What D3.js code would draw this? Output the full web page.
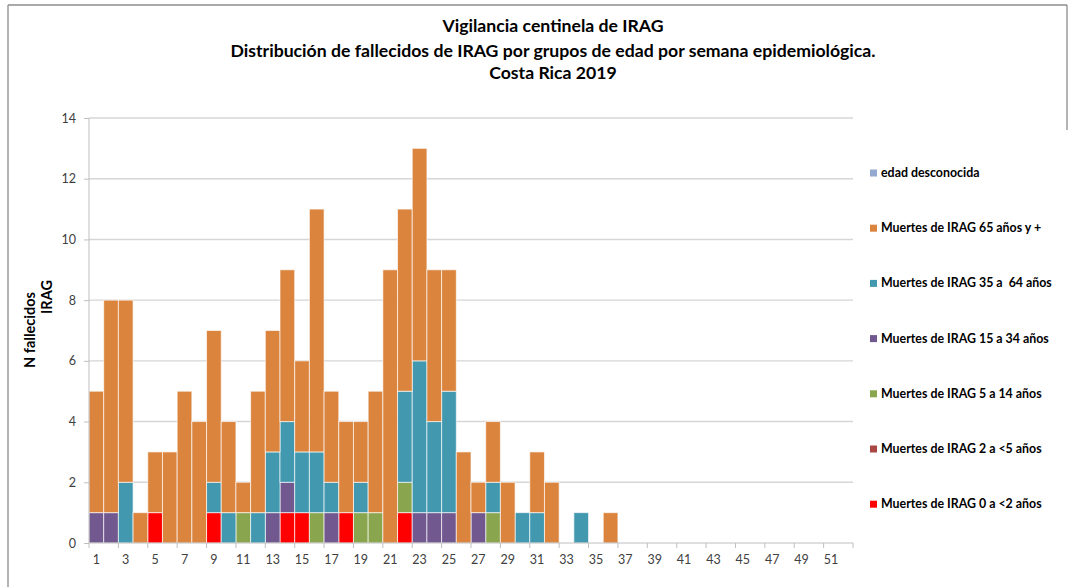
<!DOCTYPE html>
<html>
<head>
<meta charset="utf-8">
<script src="https://cdn.jsdelivr.net/npm/d3@7"></script>
<style>
  html, body { margin: 0; padding: 0; background: #fff; }
  svg { display: block; font-family: Lato, "Open Sans", sans-serif; }
  text { white-space: pre; }
</style>
</head>
<body>
<svg id="chart" width="1075" height="587"></svg>
<script>
// ---------- DATA ----------
const weeks = d3.range(1, 53);
const seriesNames = [
  "Muertes de IRAG 0 a <2 años",
  "Muertes de IRAG 2 a <5 años",
  "Muertes de IRAG 5 a 14 años",
  "Muertes de IRAG 15 a 34 años",
  "Muertes de IRAG 35 a  64 años",
  "Muertes de IRAG 65 años y +",
  "edad desconocida"
];
const deaths0to2 = [0,0,0,0,1,0,0,0,1,0, 0,0,0,1,1,0,0,1,0,0, 0,1,0,0,0,0,0,0,0,0, 0,0,0,0,0,0,0,0,0,0, 0,0,0,0,0,0,0,0,0,0, 0,0];
const deaths2to5 = [0,0,0,0,0,0,0,0,0,0, 0,0,0,0,0,0,0,0,0,0, 0,0,0,0,0,0,0,0,0,0, 0,0,0,0,0,0,0,0,0,0, 0,0,0,0,0,0,0,0,0,0, 0,0];
const deaths5to14 = [0,0,0,0,0,0,0,0,0,0, 1,0,0,0,0,1,0,0,1,1, 0,1,0,0,0,0,0,1,0,0, 0,0,0,0,0,0,0,0,0,0, 0,0,0,0,0,0,0,0,0,0, 0,0];
const deaths15to34 = [1,1,0,0,0,0,0,0,0,0, 0,0,1,1,0,0,1,0,0,0, 0,0,1,1,1,0,1,0,0,0, 0,0,0,0,0,0,0,0,0,0, 0,0,0,0,0,0,0,0,0,0, 0,0];
const deaths35to64 = [0,0,2,0,0,0,0,0,1,1, 0,1,2,2,2,2,1,0,1,0, 0,3,5,3,4,0,0,1,0,1, 1,0,0,1,0,0,0,0,0,0, 0,0,0,0,0,0,0,0,0,0, 0,0];
const deaths65plus = [4,7,6,1,2,3,5,4,5,3, 1,4,4,5,3,8,3,3,2,4, 9,6,7,5,4,3,1,2,2,0, 2,2,0,0,0,1,0,0,0,0, 0,0,0,0,0,0,0,0,0,0, 0,0];
const deathsUnknown = [0,0,0,0,0,0,0,0,0,0, 0,0,0,0,0,0,0,0,0,0, 0,0,0,0,0,0,0,0,0,0, 0,0,0,0,0,0,0,0,0,0, 0,0,0,0,0,0,0,0,0,0, 0,0];
const yTicks = [0,2,4,6,8,10,12,14];
const xTickLabels = d3.range(1, 53, 2);
const titleLines = [
  "Vigilancia centinela de IRAG",
  "Distribución de fallecidos de IRAG por grupos de edad por semana epidemiológica.",
  "Costa Rica 2019"
];
const yTitleLines = ["N fallecidos", "IRAG"];

// ---------- STYLE ----------
const colors = ["#FF0000", "#AA4643", "#89A54E", "#71588F", "#4198AF", "#DB843D", "#93A9CF"];
const seriesArrays = [deaths0to2, deaths2to5, deaths5to14, deaths15to34, deaths35to64, deaths65plus, deathsUnknown];

const table = weeks.map((w, i) => {
  const row = { week: w };
  seriesNames.forEach((k, j) => row[k] = seriesArrays[j][i]);
  return row;
});

const svg = d3.select("#chart");
const M = { left: 89, right: 853, top: 118, bottom: 543 };

// outer frame
svg.append("line").attr("x1", 8).attr("x2", 8).attr("y1", 5).attr("y2", 587).attr("stroke", "#8c8c8c").attr("stroke-width", 1.3);
svg.append("line").attr("x1", 8).attr("x2", 1067).attr("y1", 5).attr("y2", 5).attr("stroke", "#8c8c8c").attr("stroke-width", 1.3);
svg.append("line").attr("x1", 1067).attr("x2", 1067).attr("y1", 5).attr("y2", 130).attr("stroke", "#8c8c8c").attr("stroke-width", 1.3);

function fit(sel, target) {
  const node = sel.node();
  const fs = parseFloat(sel.attr("font-size"));
  const w = node.getComputedTextLength();
  sel.attr("font-size", (fs * target / w).toFixed(2));
}

const x = d3.scaleBand().domain(weeks).range([M.left, M.right]).padding(0);
const y = d3.scaleLinear().domain([0, 14]).range([M.bottom, M.top]);

// gridlines
svg.append("g").selectAll("line").data(yTicks.filter(d => d > 0)).join("line")
  .attr("x1", M.left).attr("x2", M.right)
  .attr("y1", d => y(d)).attr("y2", d => y(d))
  .attr("stroke", "#D6D6D6").attr("stroke-width", 1.4);

// bars
const stack = d3.stack().keys(seriesNames)(table);
svg.append("g").selectAll("g").data(stack).join("g")
  .attr("fill", (d, i) => colors[i])
  .selectAll("rect").data(d => d.filter(p => p[1] - p[0] > 0)).join("rect")
  .attr("x", d => x(d.data.week))
  .attr("width", x.bandwidth())
  .attr("y", d => y(d[1]))
  .attr("height", d => y(d[0]) - y(d[1]))
  .attr("stroke", "#ffffff").attr("stroke-opacity", 0.65).attr("stroke-width", 1);

// y axis
const yAxis = svg.append("g").attr("transform", `translate(${M.left},0)`)
  .call(d3.axisLeft(y).tickValues(yTicks).tickSize(5).tickPadding(8).tickFormat(d3.format("d")));
yAxis.select(".domain").attr("stroke", "#BFBFBF").attr("d", `M0,${M.top}V${M.bottom}`);
yAxis.selectAll(".tick line").attr("stroke", "#BFBFBF");
yAxis.selectAll(".tick text").attr("font-family", "Lato, sans-serif").attr("font-size", 12.5).attr("fill", "#404040");

// x axis: labels
const xAxis = svg.append("g").attr("transform", `translate(0,${M.bottom})`)
  .call(d3.axisBottom(x).tickValues(xTickLabels).tickSize(0).tickPadding(12));
xAxis.select(".domain").attr("stroke", "#BFBFBF").attr("d", `M${M.left},0H${M.right}`);
xAxis.selectAll(".tick text").attr("font-family", "Lato, sans-serif").attr("font-size", 12.5).attr("fill", "#404040");
// x axis: tick marks on category boundaries every 2 weeks
const boundaries = xTickLabels.map(w => x(w)).concat([M.right]);
svg.append("g").selectAll("line").data(boundaries).join("line")
  .attr("x1", d => d).attr("x2", d => d)
  .attr("y1", M.bottom).attr("y2", M.bottom + 5)
  .attr("stroke", "#BFBFBF");

// titles
const titleY = [32, 57, 79];
const titleW = [221, 645, 124];
titleLines.forEach((t, i) => {
  const s = svg.append("text").attr("x", 553).attr("y", titleY[i])
    .attr("text-anchor", "middle").attr("font-weight", "bold")
    .attr("font-size", 15).attr("fill", "#000").text(t);
  if (i === 1) fit(s, titleW[i]);
});
// use same size for all title lines
const tSize = svg.selectAll("text").filter(function(){ return this.textContent === titleLines[1]; }).attr("font-size");
svg.selectAll("text").filter(function(){ return titleLines.includes(this.textContent); }).attr("font-size", tSize);

// y title
const yt1 = svg.append("text").attr("transform", "translate(35,330) rotate(-90)")
  .attr("text-anchor", "middle").attr("font-weight", "bold").attr("font-size", 15).text(yTitleLines[0]);
fit(yt1, 76);
svg.append("text").attr("transform", "translate(52,297) rotate(-90)")
  .attr("text-anchor", "middle").attr("font-weight", "bold").attr("font-size", yt1.attr("font-size")).text(yTitleLines[1]);

// legend (top to bottom: reverse series order)
const legendOrder = seriesNames.map((n, i) => ({ name: n, color: colors[i] })).reverse();
const lg = svg.append("g");
let legendSize = 12;
legendOrder.forEach((d, i) => {
  const cy = 173 + i * 55.2;
  lg.append("rect").attr("x", 870).attr("y", cy - 3.5).attr("width", 7).attr("height", 7).attr("fill", d.color);
  const t = lg.append("text").attr("x", 881).attr("y", cy + 4).attr("font-weight", "bold")
    .attr("font-size", 12).attr("fill", "#000").text(d.name);
  if (d.name === "Muertes de IRAG 35 a  64 años") { fit(t, 171); legendSize = t.attr("font-size"); }
});
lg.selectAll("text").attr("font-size", legendSize);
</script>
</body>
</html>
